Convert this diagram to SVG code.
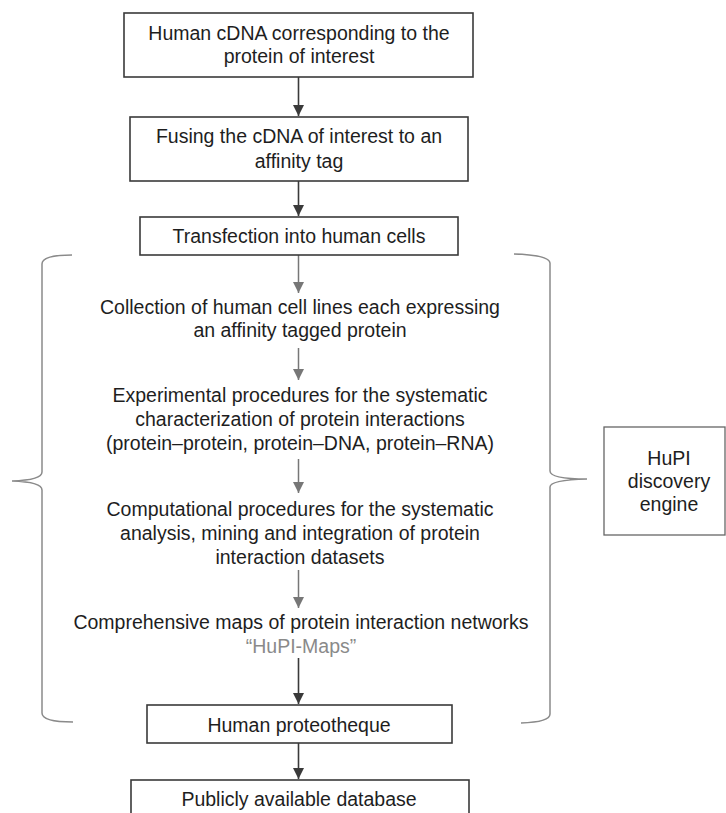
<svg xmlns="http://www.w3.org/2000/svg" width="726" height="813" viewBox="0 0 726 813">
<defs>
<style>
text{font-family:"Liberation Sans",Arial,sans-serif;font-size:19.5px;fill:#1e1e1e;text-anchor:middle}
.box{fill:#fff;stroke:#3a3a3a;stroke-width:1.6}
.hupi{fill:#fff;stroke:#666;stroke-width:1.3}
.dark{stroke:#3a3a3a;stroke-width:1.6;fill:none}
.gray{stroke:#777;stroke-width:1.5;fill:none}
.brace{stroke:#8a8a8a;stroke-width:1.5;fill:none}
.grey-text{fill:#8a8a8a}
</style>
<marker id="ad" viewBox="0 0 12 11" refX="11" refY="5.5" markerWidth="12" markerHeight="11" markerUnits="userSpaceOnUse" orient="auto">
<path d="M0,0 L11,5.5 L0,11 Z" fill="#3a3a3a"/>
</marker>
<marker id="ag" viewBox="0 0 12 11" refX="11" refY="5.5" markerWidth="12" markerHeight="11" markerUnits="userSpaceOnUse" orient="auto">
<path d="M0,0 L11,5.5 L0,11 Z" fill="#777"/>
</marker>
</defs>
<rect width="726" height="813" fill="#fff"/>

<g id="connectors">
<line class="dark" x1="298.5" y1="77" x2="298.5" y2="116" marker-end="url(#ad)"/>
<line class="dark" x1="298.5" y1="181" x2="298.5" y2="216" marker-end="url(#ad)"/>
<line class="gray" x1="298.5" y1="255" x2="298.5" y2="293" marker-end="url(#ag)"/>
<line class="gray" x1="298.5" y1="348" x2="298.5" y2="380" marker-end="url(#ag)"/>
<line class="gray" x1="298.5" y1="459" x2="298.5" y2="493" marker-end="url(#ag)"/>
<line class="gray" x1="298.5" y1="570" x2="298.5" y2="608" marker-end="url(#ag)"/>
<line class="dark" x1="298.5" y1="658" x2="298.5" y2="704" marker-end="url(#ad)"/>
<line class="dark" x1="298.5" y1="743" x2="298.5" y2="779" marker-end="url(#ad)"/>
</g>

<g id="braces">
<path class="brace" d="M72,255 Q42,255 42,264 L42,472 Q42,480 12,481 Q42,482 42,490 L42,713 Q42,722 73,722"/>
<path class="brace" d="M514,254 Q549,255 550,263 L550,471 Q550,479 587,479 Q550,480 550,487 L550,714 Q550,722 521,723"/>
</g>

<g id="n1">
<rect class="box" x="124" y="13" width="349" height="64"/>
<text x="299" y="40">Human cDNA corresponding to the</text>
<text x="299" y="63">protein of interest</text>
</g>
<g id="n2">
<rect class="box" x="130" y="117" width="338" height="64"/>
<text x="299" y="143">Fusing the cDNA of interest to an</text>
<text x="299" y="168">affinity tag</text>
</g>
<g id="n3">
<rect class="box" x="140" y="217" width="318" height="38"/>
<text x="299" y="243">Transfection into human cells</text>
</g>
<g id="n4">
<text x="300" y="314">Collection of human cell lines each expressing</text>
<text x="300" y="337">an affinity tagged protein</text>
</g>
<g id="n5">
<text x="300" y="402">Experimental procedures for the systematic</text>
<text x="300" y="426">characterization of protein interactions</text>
<text x="300" y="450">(protein–protein, protein–DNA, protein–RNA)</text>
</g>
<g id="n6">
<text x="300" y="516">Computational procedures for the systematic</text>
<text x="300" y="540">analysis, mining and integration of protein</text>
<text x="300" y="564">interaction datasets</text>
</g>
<g id="n7">
<text x="301" y="629">Comprehensive maps of protein interaction networks</text>
<text x="301" y="653" class="grey-text">“HuPI-Maps”</text>
</g>
<g id="n8">
<rect class="box" x="147" y="705" width="305" height="38"/>
<text x="299" y="732">Human proteotheque</text>
</g>
<g id="n9">
<rect class="box" x="131" y="780" width="338" height="50"/>
<text x="299" y="806">Publicly available database</text>
</g>
<g id="hupi">
<rect class="hupi" x="604" y="427" width="121" height="108"/>
<text x="669" y="465">HuPI</text>
<text x="669" y="488">discovery</text>
<text x="669" y="511">engine</text>
</g>
</svg>
